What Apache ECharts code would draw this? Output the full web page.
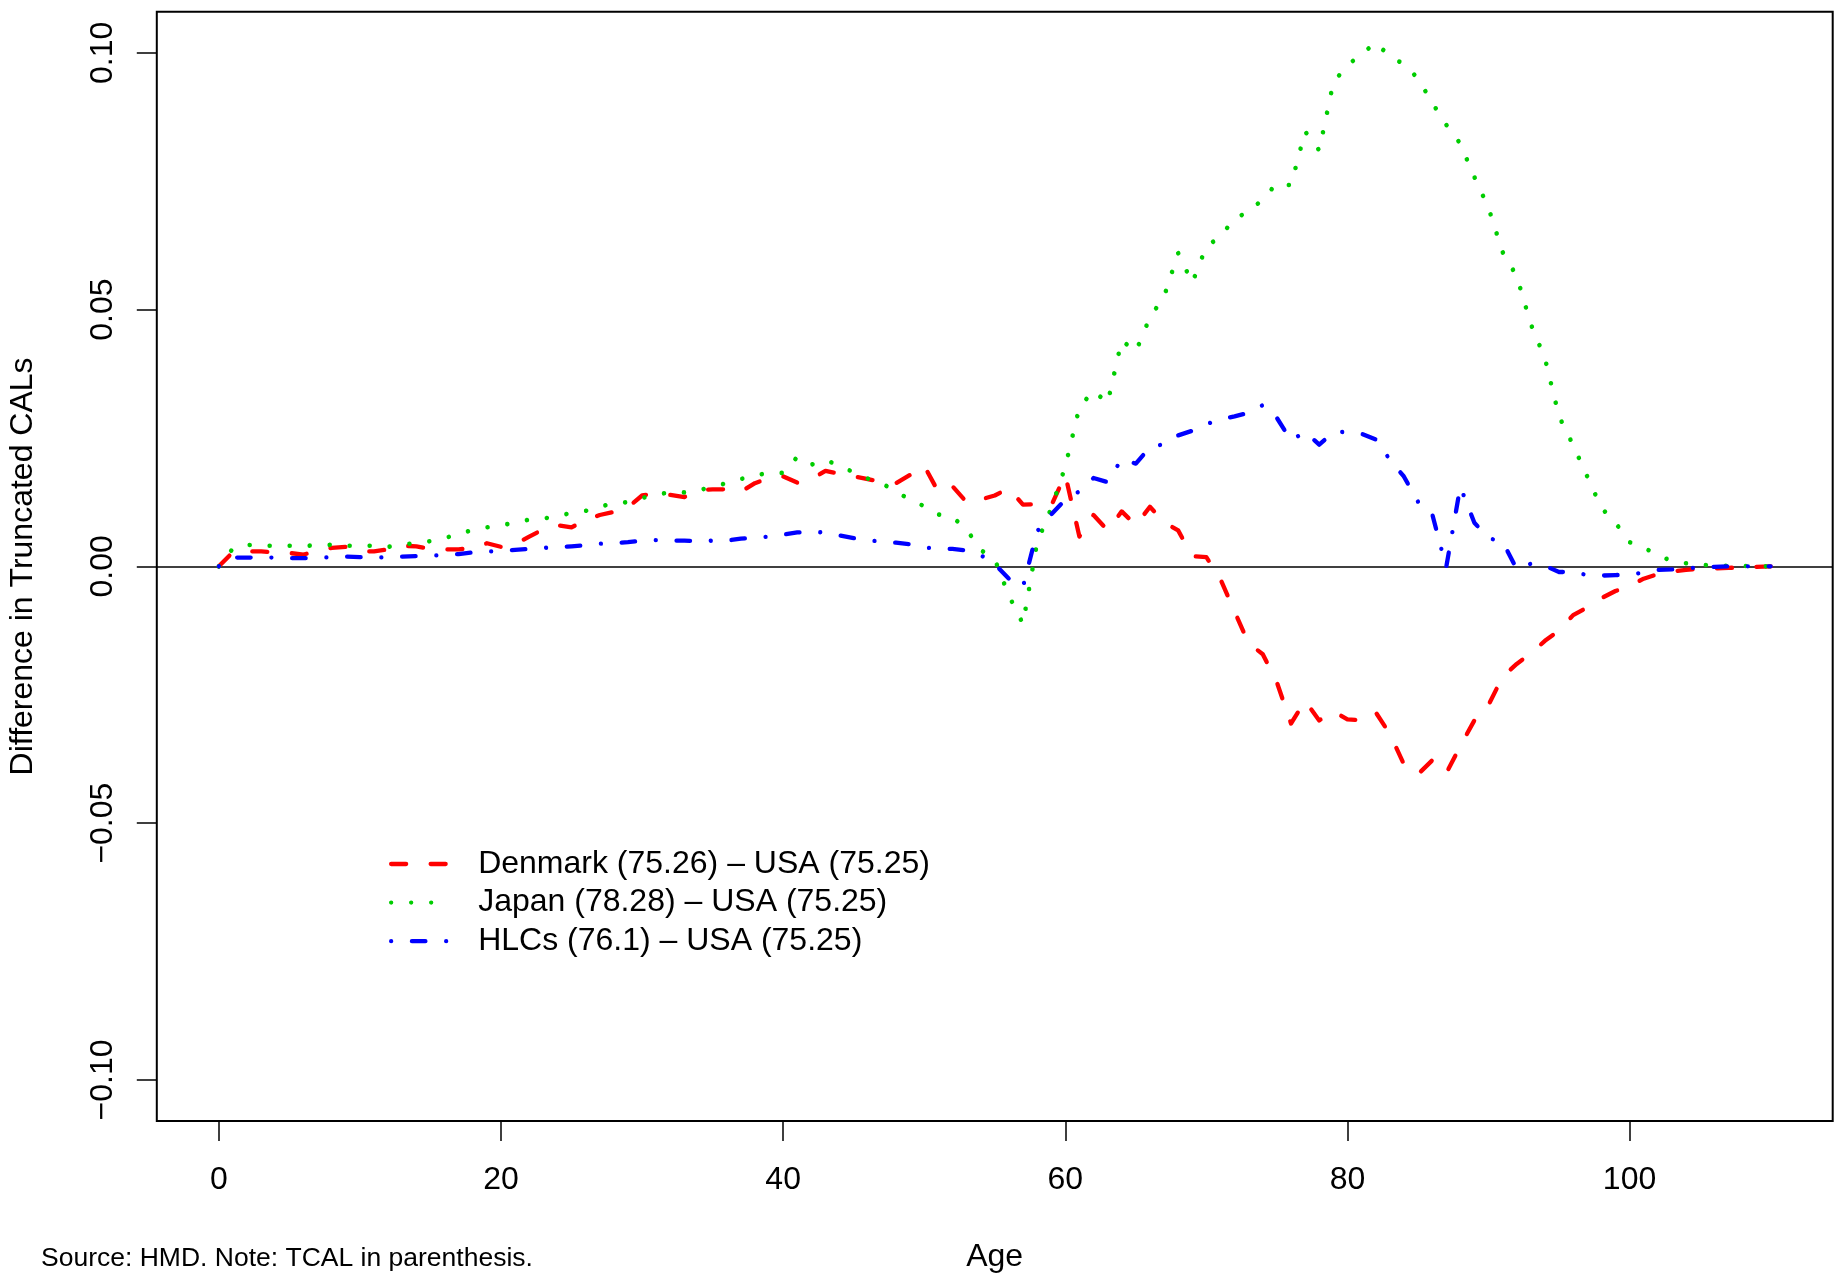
<!DOCTYPE html>
<html>
<head>
<meta charset="utf-8">
<script src="https://cdn.jsdelivr.net/npm/echarts@6/dist/echarts.min.js"></script>
<style>
html,body{margin:0;padding:0;background:#fff;}
#chart{width:1835px;height:1273px;}
</style>
</head>
<body>
<div id="chart"></div>
<script>
// ---- data ----
var ages = [];
for (var i = 0; i <= 110; i++) ages.push(i);

var seriesNames = [
  "Denmark (75.26) \u2013 USA (75.25)",
  "Japan (78.28) \u2013 USA (75.25)",
  "HLCs (76.1) \u2013 USA (75.25)"
];

var denmark = [
  0, 0.0028, 0.0029, 0.0029, 0.0027, 0.0026, 0.0023, 0.0030, 0.0036, 0.0038,
  0.0030, 0.0029, 0.0033, 0.0040, 0.0039, 0.0034, 0.0033, 0.0033, 0.0036, 0.0045,
  0.0038, 0.0043, 0.0058, 0.0072, 0.0080, 0.0076, 0.0090, 0.0100, 0.0106, 0.0115,
  0.0138, 0.0142, 0.0139, 0.0135, 0.0148, 0.0150, 0.0150, 0.0145, 0.0162, 0.0172,
  0.0175, 0.0163, 0.0170, 0.0186, 0.0180, 0.0175, 0.0170, 0.0164, 0.0162, 0.0178,
  0.0196, 0.0145, 0.0156, 0.0125, 0.0130, 0.0138, 0.0152, 0.0120, 0.0121, 0.0118,
  0.0178, 0.0058, 0.0100, 0.0070, 0.0107, 0.0080, 0.0116, 0.0086, 0.0070, 0.0020,
  0.0018, -0.0025, -0.0088, -0.0150, -0.0171, -0.0226, -0.0306, -0.0262, -0.0300, -0.0282,
  -0.0298, -0.0300, -0.0284, -0.0326, -0.0385, -0.0405, -0.0378, -0.0403, -0.0350, -0.0300,
  -0.0270, -0.0215, -0.0190, -0.0170, -0.0145, -0.0125, -0.0095, -0.0080, -0.0062, -0.0048,
  -0.0038, -0.0024, -0.0015, -0.0010, -0.0007, -0.0005, -0.0004, -0.0003, -0.0002, -0.0001,
  0
];

var japan = [
  0, 0.0035, 0.0042, 0.0040, 0.0040, 0.0040, 0.0040, 0.0041, 0.0042, 0.0040,
  0.0040, 0.0040, 0.0038, 0.0042, 0.0046, 0.0049, 0.0055, 0.0063, 0.0071, 0.0076,
  0.0080, 0.0085, 0.0091, 0.0093, 0.0098, 0.0104, 0.0108, 0.0116, 0.0123, 0.0125,
  0.0133, 0.0140, 0.0144, 0.0144, 0.0148, 0.0155, 0.0162, 0.0170, 0.0177, 0.0182,
  0.0182, 0.0213, 0.0198, 0.0207, 0.0196, 0.0183, 0.0171, 0.0162, 0.0145, 0.0130,
  0.0117, 0.0101, 0.0096, 0.0072, 0.0032, 0.0014, -0.0057, -0.0112, 0.0046, 0.0113,
  0.0194, 0.0310, 0.0342, 0.0318, 0.0440, 0.0418, 0.0485, 0.0525, 0.0610, 0.0552,
  0.0623, 0.0642, 0.0678, 0.0690, 0.0715, 0.0746, 0.0742, 0.0847, 0.0810, 0.0942,
  0.0976, 0.0997, 0.1020, 0.0993, 0.0978, 0.0950, 0.0903, 0.0860, 0.0823, 0.0758,
  0.0698, 0.0612, 0.0565, 0.0472, 0.0405, 0.0292, 0.0236, 0.0175, 0.0114, 0.0085,
  0.0047, 0.0037, 0.0021, 0.0011, 0.0006, 0.0003, 0.0002, 0.0001, 0.0001, 0.0000,
  0
];

var hlcs = [
  0, 0.0017, 0.0017, 0.0017, 0.0017, 0.0016, 0.0016, 0.0017, 0.0018, 0.0019,
  0.0018, 0.0017, 0.0018, 0.0019, 0.0020, 0.0021, 0.0022, 0.0024, 0.0027, 0.0029,
  0.0030, 0.0032, 0.0034, 0.0036, 0.0037, 0.0039, 0.0041, 0.0044, 0.0045, 0.0047,
  0.0050, 0.0051, 0.0050, 0.0050, 0.0049, 0.0050, 0.0050, 0.0054, 0.0056, 0.0058,
  0.0062, 0.0066, 0.0067, 0.0066, 0.0060, 0.0055, 0.0051, 0.0048, 0.0046, 0.0043,
  0.0037, 0.0034, 0.0034, 0.0031, 0.0022, 0.0004, -0.0024, -0.0040, 0.0068, 0.0101,
  0.0130, 0.0146, 0.0172, 0.0164, 0.0209, 0.0200, 0.0232, 0.0238, 0.0255, 0.0264,
  0.0277, 0.0286, 0.0292, 0.0299, 0.0314, 0.0289, 0.0245, 0.0262, 0.0237, 0.0261,
  0.0262, 0.0258, 0.0247, 0.0208, 0.0175, 0.0126, 0.0103, -0.0002, 0.0155, 0.0085,
  0.0055, 0.0048, -0.0005, 0.0005, 0.0001, -0.0011, -0.0011, -0.0017, -0.0018, -0.0017,
  -0.0016, -0.0012, -0.0007, -0.0006, -0.0004, -0.0002, -0.0001, 0, 0, 0,
  0
];

var xTicks = [0, 20, 40, 60, 80, 100];
var yTicks = [-0.1, -0.05, 0, 0.05, 0.1];

var xTitle = "Age";
var yTitle = "Difference in Truncated CALs";
var footnote = "Source: HMD. Note: TCAL in parenthesis.";

// ---- chart ----
function pairs(vals) {
  return ages.map(function (a, i) { return [a, vals[i]]; });
}
var FONT = "'Liberation Sans', Arial, Helvetica, sans-serif";
var gLeft = 156.8, gRight = 2.3, gTop = 11.7, gBottom = 152;

var chart = echarts.init(document.getElementById('chart'), null, {renderer: 'canvas'});

var lw = 4.3;
var option = {
  animation: false,
  backgroundColor: '#ffffff',
  grid: {
    left: gLeft, right: gRight, top: gTop, bottom: gBottom,
    show: true, borderColor: '#000', borderWidth: 2, backgroundColor: 'transparent'
  },
  xAxis: {
    type: 'value', min: -4.4, max: 114.4,
    axisLine: {show: false, onZero: false},
    splitLine: {show: false},
    axisTick: {show: true, inside: false, length: 20, customValues: xTicks,
      lineStyle: {color: '#000', width: 1.5}},
    axisLabel: {show: true, customValues: xTicks, margin: 43,
      fontSize: 32, fontFamily: FONT, color: '#000',
      formatter: function (v) { return String(v); }}
  },
  yAxis: {
    type: 'value', min: -0.108, max: 0.108,
    axisLine: {show: false, onZero: false},
    splitLine: {show: false},
    axisTick: {show: true, inside: false, length: 20, customValues: yTicks,
      lineStyle: {color: '#000', width: 1.5}},
    axisLabel: {show: true, customValues: yTicks, margin: 38, rotate: 90,
      fontSize: 32, fontFamily: FONT, color: '#000',
      formatter: function (v) {
        var s = Math.abs(v).toFixed(2);
        return (v < -1e-9 ? '\u2212' : '') + s;
      }}
  },
  legend: {
    orient: 'vertical', left: 384, top: 843, padding: 5,
    itemWidth: 57, itemHeight: 14, itemGap: 6.6,
    itemStyle: {opacity: 0},
    lineStyle: {width: lw, cap: 'round'},
    textStyle: {fontSize: 32, fontFamily: FONT, color: '#000', lineHeight: 32,
      padding: [0, 0, 0, 25]},
    data: seriesNames
  },
  series: [
    {
      name: seriesNames[0], type: 'line', data: pairs(denmark),
      symbol: 'none', showSymbol: false, smooth: false,
      lineStyle: {color: '#FF0000', width: lw, type: [15, 24.5], cap: 'round', join: 'round'},
      itemStyle: {color: '#FF0000'},
      markLine: {
        silent: true, symbol: ['none', 'none'], label: {show: false},
        lineStyle: {color: '#000', width: 1.6, type: 'solid'},
        data: [{yAxis: 0}], z: 1
      },
      z: 3
    },
    {
      name: seriesNames[1], type: 'line', data: pairs(japan),
      symbol: 'none', showSymbol: false,
      lineStyle: {color: '#00CD00', width: lw + 0.3, type: [0.01, 20], cap: 'round', join: 'round'},
      itemStyle: {color: '#00CD00'},
      z: 4
    },
    {
      name: seriesNames[2], type: 'line', data: pairs(hlcs),
      symbol: 'none', showSymbol: false,
      lineStyle: {color: '#0000FF', width: lw, type: [0.01, 20.75, 13.5, 20.75], cap: 'round', join: 'round'},
      itemStyle: {color: '#0000FF'},
      z: 5
    }
  ],
  graphic: [
    {type: 'text', x: 994.7, y: 1257, z: 10,
      style: {text: xTitle, font: '32px ' + FONT, fill: '#000',
        textAlign: 'center', textVerticalAlign: 'middle'}},
    {type: 'text', x: 23.4, y: 566.4, rotation: Math.PI / 2, z: 10,
      style: {text: yTitle, font: '32px ' + FONT, fill: '#000',
        textAlign: 'center', textVerticalAlign: 'middle'}},
    {type: 'text', x: 41, y: 1259, z: 10,
      style: {text: footnote, font: '26.5px ' + FONT, fill: '#000',
        textAlign: 'left', textVerticalAlign: 'middle'}}
  ]
};
chart.setOption(option);
</script>
</body>
</html>
